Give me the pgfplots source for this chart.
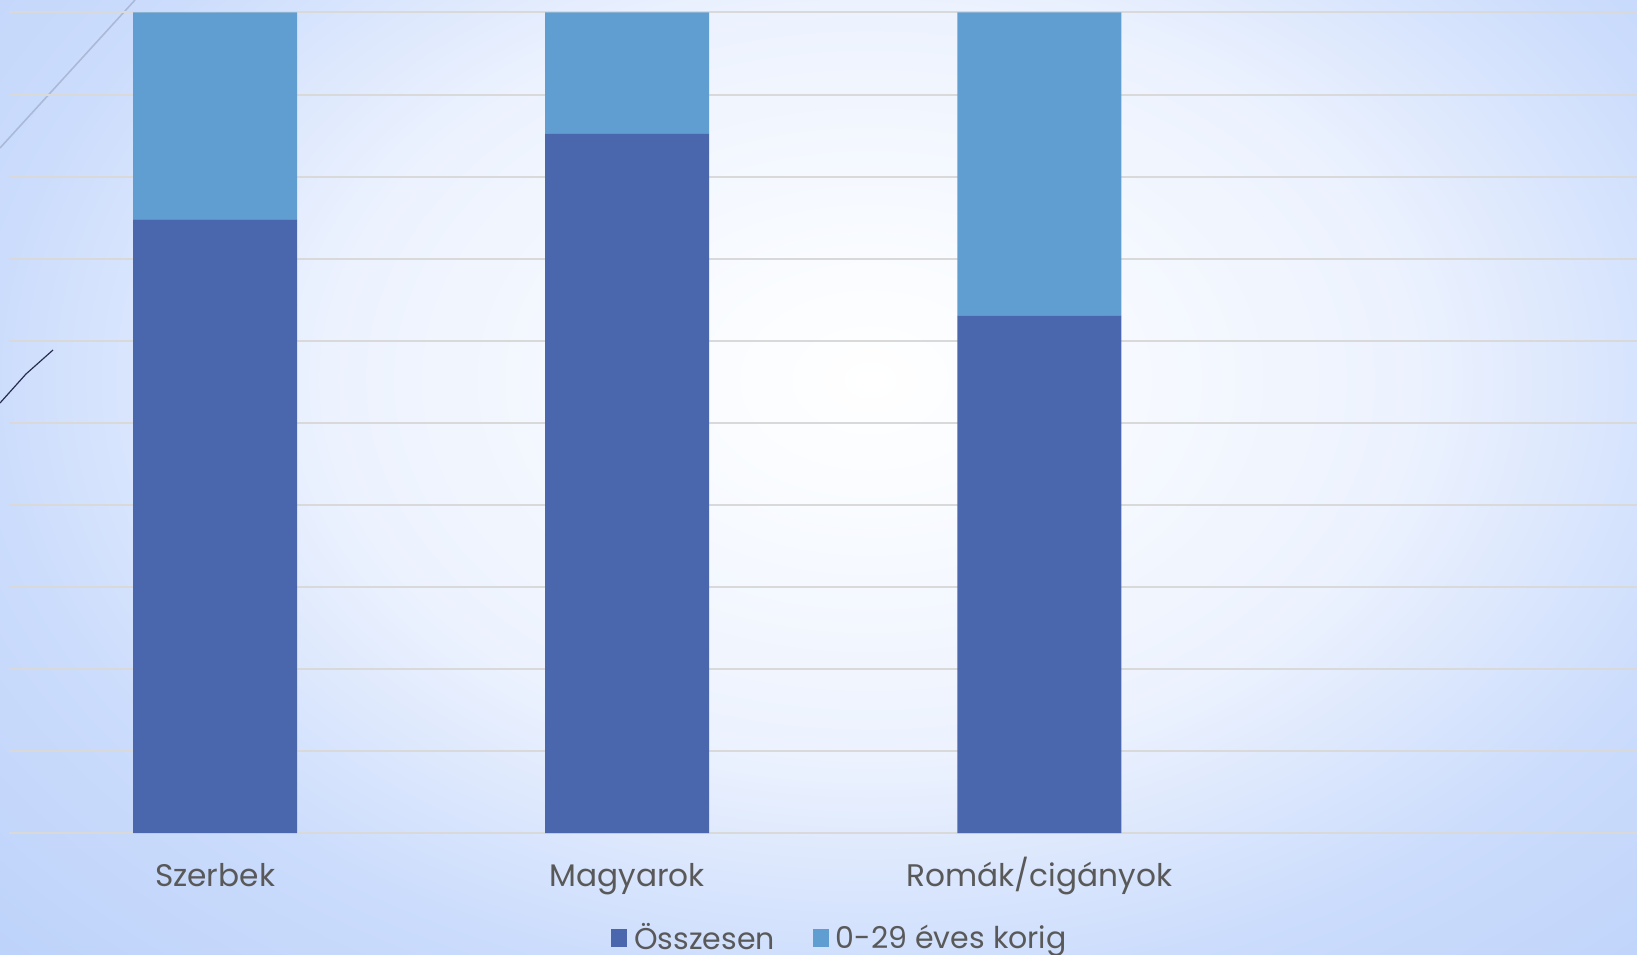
\documentclass[border=0pt]{standalone}
\usepackage{pgfplots}
\pgfplotsset{compat=1.18}
\usepackage{fontspec}
\setmainfont{Poppins}
\definecolor{darkbar}{RGB}{74,102,172}
\definecolor{lightbar}{RGB}{96,158,209}
\definecolor{gridgray}{RGB}{217,217,217}
\definecolor{txt}{RGB}{89,89,89}
\definecolor{bgA}{RGB}{250,252,255}
\definecolor{bgB}{RGB}{236,242,254}
\definecolor{bgC}{RGB}{203,220,252}
\definecolor{bgD}{RGB}{190,211,250}
\definecolor{bgE}{RGB}{186,208,250}
\pgfdeclareradialshading{bgshade}{\pgfpoint{0bp}{0bp}}{color(0bp)=(white); color(3bp)=(bgA); color(10.5bp)=(bgB); color(17bp)=(bgC); color(23bp)=(bgD); color(25bp)=(bgE); color(50bp)=(bgE)}
\begin{document}
\begin{tikzpicture}
\useasboundingbox (0,0) rectangle (818.5pt,477pt);
\clip (0,0) rectangle (818.5pt,477pt);
\begin{scope}[x=0.5pt,y=0.5pt]
\shade[shading=bgshade] (870,574) ellipse [x radius=1300, y radius=900];
\draw[color={rgb,255:red,170;green,185;blue,215}, line width=0.8pt] (0,806) -- (135,954);
\draw[color={rgb,255:red,40;green,45;blue,80}, line width=0.6pt] (0,551) -- (26,580) -- (53,604);
\end{scope}
\begin{scope}[overlay]
\begin{axis}[
  at={(4.5pt,60.5pt)}, anchor=south west,
  scale only axis, width=814pt, height=410.25pt,
  ybar stacked, bar width=82pt,
  xmin=-0.5, xmax=3.45, ymin=0, ymax=100,
  xtick={0,1,2}, xticklabels={Szerbek,Magyarok,Romák/cigányok},
  ytick={0,10,...,100}, yticklabels={},
  ymajorgrids, grid style={color=gridgray, line width=1pt},
  axis line style={draw=none},
  major tick length=0pt,
  tick style={draw=none},
  xticklabel style={anchor=base, yshift=-26.5pt, font=\fontsize{15.6}{18}\selectfont, color=txt},
  legend columns=2,
  legend style={at={(axis description cs:0.511,-0.128)}, anchor=center, draw=none, fill=none,
    font=\fontsize{15}{18}\selectfont, text=txt,
    /tikz/every even column/.append style={column sep=17pt}},
  legend image code/.code={\fill[#1] (0pt,-4.5pt) rectangle (8pt,4.5pt); \path (9.5pt,0pt);},
]
\addplot[fill=darkbar, draw=none] coordinates {(0,74.8) (1,85.2) (2,63.1)};
\addplot[fill=lightbar, draw=none] coordinates {(0,25.2) (1,14.8) (2,36.9)};
\legend{Összesen,0-29 éves korig}
\end{axis}
\end{scope}
\end{tikzpicture}
\end{document}
